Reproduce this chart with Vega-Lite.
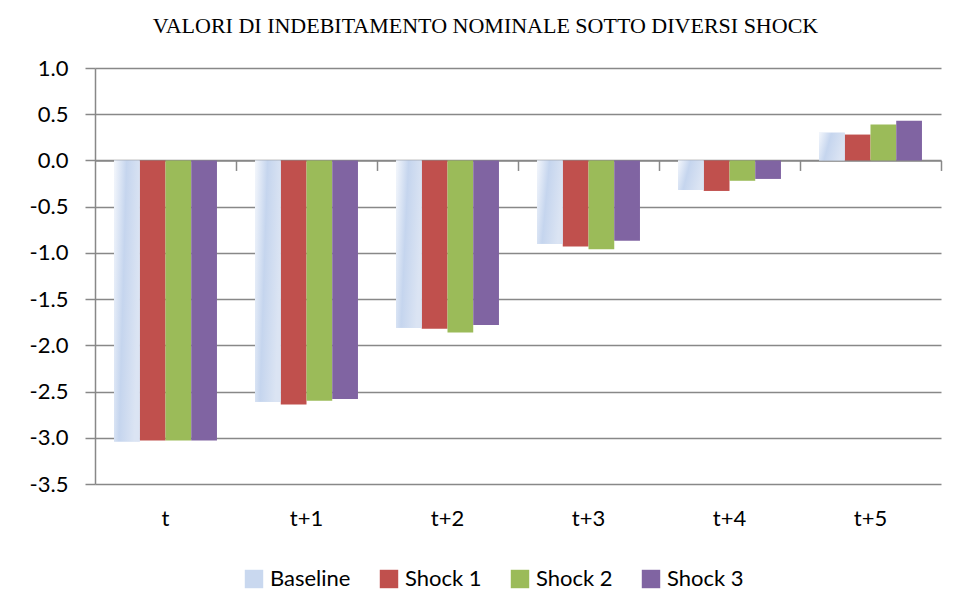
{
  "$schema": "https://vega.github.io/schema/vega-lite/v6.json",
  "width": 846,
  "height": 416,
  "autosize": {"type": "none"},
  "padding": {"left": 95, "top": 68, "right": 16, "bottom": 125},
  "background": "white",
  "title": {
    "text": "VALORI DI INDEBITAMENTO NOMINALE SOTTO DIVERSI SHOCK",
    "font": "Liberation Serif",
    "fontSize": 22,
    "fontWeight": "normal",
    "color": "#000000",
    "anchor": "middle",
    "frame": "bounds",
    "baseline": "alphabetic",
    "offset": 2
  },
  "data": {
    "values": [
      {"periodo": "t", "serie": "Baseline", "valore": -3.04},
      {"periodo": "t", "serie": "Shock 1", "valore": -3.03},
      {"periodo": "t", "serie": "Shock 2", "valore": -3.03},
      {"periodo": "t", "serie": "Shock 3", "valore": -3.03},
      {"periodo": "t+1", "serie": "Baseline", "valore": -2.61},
      {"periodo": "t+1", "serie": "Shock 1", "valore": -2.64},
      {"periodo": "t+1", "serie": "Shock 2", "valore": -2.6},
      {"periodo": "t+1", "serie": "Shock 3", "valore": -2.58},
      {"periodo": "t+2", "serie": "Baseline", "valore": -1.81},
      {"periodo": "t+2", "serie": "Shock 1", "valore": -1.82},
      {"periodo": "t+2", "serie": "Shock 2", "valore": -1.86},
      {"periodo": "t+2", "serie": "Shock 3", "valore": -1.78},
      {"periodo": "t+3", "serie": "Baseline", "valore": -0.9},
      {"periodo": "t+3", "serie": "Shock 1", "valore": -0.93},
      {"periodo": "t+3", "serie": "Shock 2", "valore": -0.96},
      {"periodo": "t+3", "serie": "Shock 3", "valore": -0.87},
      {"periodo": "t+4", "serie": "Baseline", "valore": -0.32},
      {"periodo": "t+4", "serie": "Shock 1", "valore": -0.33},
      {"periodo": "t+4", "serie": "Shock 2", "valore": -0.22},
      {"periodo": "t+4", "serie": "Shock 3", "valore": -0.2},
      {"periodo": "t+5", "serie": "Baseline", "valore": 0.3},
      {"periodo": "t+5", "serie": "Shock 1", "valore": 0.28},
      {"periodo": "t+5", "serie": "Shock 2", "valore": 0.39},
      {"periodo": "t+5", "serie": "Shock 3", "valore": 0.43}
    ]
  },
  "layer": [
    {
      "mark": {"type": "bar"},
      "encoding": {
        "x": {
          "field": "periodo",
          "type": "nominal",
          "sort": null,
          "scale": {"paddingInner": 0.27, "paddingOuter": 0.135},
          "axis": {
            "title": null,
            "domain": false,
            "ticks": false,
            "grid": false,
            "labelAngle": 0,
            "labelPadding": 24,
            "labelFont": "Lato",
            "labelFontSize": 22,
            "labelColor": "#000000"
          }
        },
        "xOffset": {"field": "serie", "type": "nominal", "sort": null, "scale": {"paddingInner": 0}},
        "y": {
          "field": "valore",
          "type": "quantitative",
          "scale": {"domain": [-3.5, 1.0], "nice": false, "zero": false},
          "axis": {
            "title": null,
            "values": [-3.5, -3.0, -2.5, -2.0, -1.5, -1.0, -0.5, 0.0, 0.5, 1.0],
            "format": ".1f",
            "labelExpr": "replace(datum.label, '\u2212', '-')",
            "domain": true,
            "domainColor": "#888888",
            "domainWidth": 1.5,
            "ticks": true,
            "tickSize": 10,
            "tickColor": "#888888",
            "tickWidth": 1.5,
            "grid": true,
            "gridColor": "#888888",
            "gridWidth": 1.5,
            "labelPadding": 17,
            "labelFont": "Lato",
            "labelFontSize": 22,
            "labelColor": "#000000"
          }
        },
        "color": {
          "field": "serie",
          "type": "nominal",
          "sort": null,
          "scale": {
            "domain": ["Baseline", "Shock 1", "Shock 2", "Shock 3"],
            "range": ["#c9d8ef", "#C0504D", "#9BBB59", "#8064A2"]
          },
          "legend": {
            "title": null,
            "orient": "none",
            "direction": "horizontal",
            "legendX": 148,
            "legendY": 500,
            "symbolType": "square",
            "symbolSize": 340,
            "symbolStrokeWidth": 0,
            "labelFont": "Lato",
            "labelFontSize": 22,
            "labelColor": "#000000",
            "labelOffset": 5,
            "columnPadding": 27,
            "symbolOpacity": 1
          }
        }
      }
    },
    {
      "transform": [{"filter": "datum.serie === 'Baseline'"}],
      "mark": {
        "type": "bar",
        "fill": {
          "gradient": "linear",
          "x1": 0, "y1": 0, "x2": 1, "y2": 0.3,
          "stops": [
            {"offset": 0, "color": "#f4f7fc"},
            {"offset": 0.45, "color": "#c5d5ee"},
            {"offset": 1, "color": "#dbe4f3"}
          ]
        }
      },
      "encoding": {
        "x": {"field": "periodo", "type": "nominal", "sort": null, "axis": null},
        "xOffset": {"field": "serie", "type": "nominal", "sort": null},
        "y": {"field": "valore", "type": "quantitative"}
      }
    },
    {
      "mark": {"type": "point", "opacity": 0},
      "encoding": {
        "x": {
          "field": "periodo",
          "type": "nominal",
          "sort": null,
          "axis": {
            "title": null,
            "orient": "bottom",
            "offset": -323.56,
            "labels": false,
            "domain": true,
            "domainColor": "#888888",
            "domainWidth": 1.5,
            "ticks": true,
            "tickOffset": 70.5,
            "tickSize": 10,
            "tickColor": "#888888",
            "tickWidth": 1.5,
            "grid": false
          }
        },
        "y": {"datum": 0, "type": "quantitative"}
      }
    }
  ],
  "resolve": {"axis": {"x": "independent"}},
  "config": {
    "view": {"stroke": null}
  }
}
